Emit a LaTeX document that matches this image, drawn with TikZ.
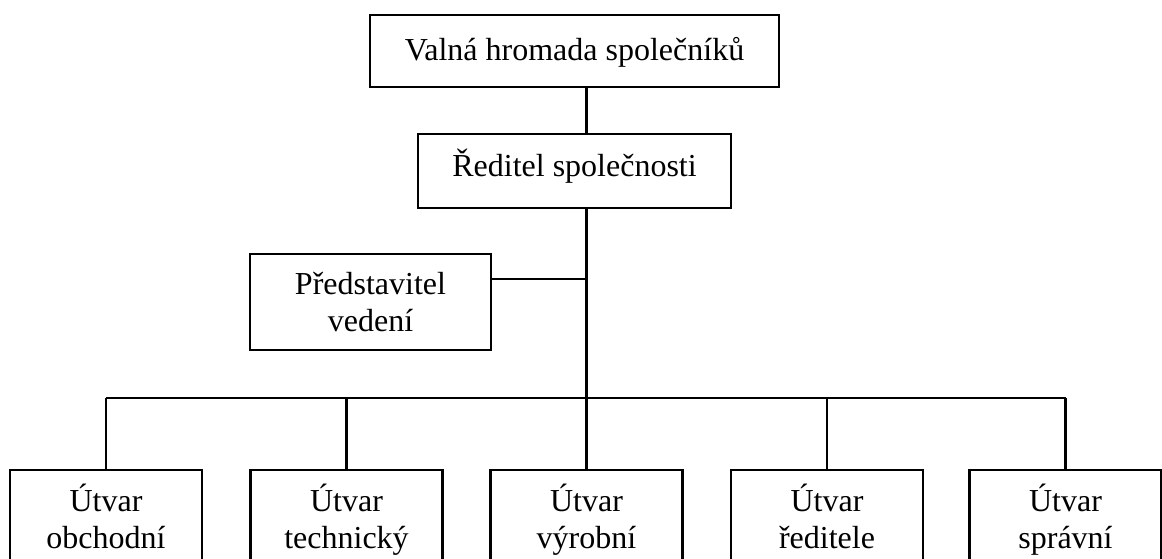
\documentclass[tikz,border=0pt]{standalone}
\usepackage{fontspec}
\setmainfont{Liberation Serif}
\begin{document}
\begin{tikzpicture}[x=1pt,y=-1pt,
  box/.style={draw,line width=2.2pt,inner xsep=0pt,inner ysep=0pt,align=center,
    font=\fontsize{32}{37}\selectfont},
  link/.style={line width=2.2pt}]
\useasboundingbox (0,0) rectangle (1162,559);
\clip (0,0) rectangle (1162,559);
\fill[white] (0,0) rectangle (1162,559);
\node[box,anchor=north,minimum width=409] (top) at (574.5,14)
  {\rule[-27pt]{0pt}{72pt}Valná hromada společníků};
\node[box,anchor=north,minimum width=313] (dir) at (574.5,133)
  {\rule[-32pt]{0pt}{74pt}Ředitel společnosti};
\node[box,anchor=north,minimum width=241] (pred) at (370.5,253)
  {\rule{0pt}{40pt}Představitel\\vedení\rule[-19pt]{0pt}{19pt}};
\foreach \n/\x/\t in {b1/106/{Útvar\\obchodní},b2/346.5/{Útvar\\technický},
  b3/586.5/{Útvar\\výrobní},b4/827/{Útvar\\ředitele},b5/1065.5/{Útvar\\správní}}{
  \node[box,anchor=north,minimum width=192] (\n) at (\x,469)
    {\rule{0pt}{41pt}\t\rule[-40pt]{0pt}{40pt}};
}
\coordinate (busc) at (586.5,398);
\draw[link] (top.south -| busc) -- (dir.north -| busc);
\draw[link] (dir.south -| busc) -- (b3.north);
\draw[link] (b1.north |- busc) -- (b5.north |- busc);
\foreach \n in {b1,b2,b4,b5}{
  \draw[link] (\n.north) -- (\n.north |- busc);
}
\draw[link] ([yshift=23pt]pred.east) -- ([yshift=23pt]pred.east -| busc);
\end{tikzpicture}
\end{document}
